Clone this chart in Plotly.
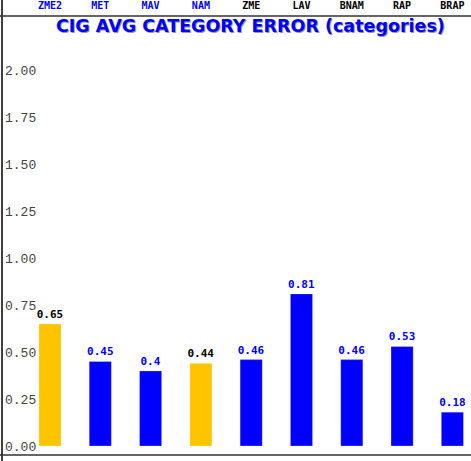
import plotly.graph_objects as go

models = ["ZME2", "MET", "MAV", "NAM", "ZME", "LAV", "BNAM", "RAP", "BRAP"]
errors = [0.65, 0.45, 0.4, 0.44, 0.46, 0.81, 0.46, 0.53, 0.18]
value_labels = ["0.65", "0.45", "0.4", "0.44", "0.46", "0.81", "0.46", "0.53", "0.18"]
highlight = ["ZME2", "NAM"]
blue_names = ["ZME2", "MET", "MAV", "NAM"]
y_ticks = [0, 0.25, 0.5, 0.75, 1.0, 1.25, 1.5, 1.75, 2.0]

BLUE = "#0000ff"
GOLD = "#ffc400"

bar_colors = [GOLD if m in highlight else BLUE for m in models]
text_colors = ["#000000" if m in highlight else BLUE for m in models]
tick_text = [
    f"<span style='color:{BLUE if m in blue_names else '#000000'}'><b>{m}</b></span>"
    for m in models
]

fig = go.Figure(go.Bar(
    x=list(range(len(models))),
    y=errors,
    width=0.44,
    marker=dict(color=bar_colors, line=dict(color="rgba(255,255,255,0.25)", width=1)),
    text=[f"<b>{t}</b>" for t in value_labels],
    textposition="outside",
    constraintext="none",
    cliponaxis=False,
    textfont=dict(family="DejaVu Sans Mono", size=11, color=text_colors),
))

# title with a faint drop shadow
title = "CIG AVG CATEGORY ERROR (categories)"
for dx, dy, col in [(1, -1, "#9a9a9a"), (0, 0, BLUE)]:
    fig.add_annotation(
        text=f"<b>{title}</b>", xref="paper", yref="paper", x=0.53, y=0.977,
        xshift=dx, yshift=dy, showarrow=False, xanchor="center", yanchor="middle",
        font=dict(family="DejaVu Sans", size=17.5, color=col),
    )

# frame lines
fig.add_shape(type="line", xref="paper", yref="paper", x0=0, x1=0, y0=-0.02, y1=1.04,
              line=dict(color="#000000", width=1.5))
fig.add_shape(type="line", xref="paper", yref="paper", x0=-0.01, x1=1, y0=1, y1=1,
              line=dict(color="#333333", width=1.5))
fig.add_shape(type="line", xref="paper", yref="paper", x0=-0.01, x1=1, y0=0, y1=0,
              line=dict(color="#333333", width=1.5))

fig.update_layout(
    width=471, height=461,
    margin=dict(l=2, r=0, t=16, b=6),
    paper_bgcolor="white", plot_bgcolor="white",
    showlegend=False,
    xaxis=dict(
        side="top", tickvals=list(range(len(models))), ticktext=tick_text,
        range=[-0.954, 8.37], showgrid=False, zeroline=False, ticks="",
        tickfont=dict(family="DejaVu Sans Mono", size=10), ticklabelstandoff=4,
    ),
    yaxis=dict(
        range=[-0.048, 2.29], tickvals=y_ticks, tickformat=".2f",
        ticklabelposition="inside", showgrid=False, zeroline=False, ticks="",
        tickfont=dict(family="Liberation Mono", size=13, color="#444444"),
    ),
)

fig.write_html("out.html", config={"displayModeBar": False},
               post_script="document.body.style.margin='0';")
